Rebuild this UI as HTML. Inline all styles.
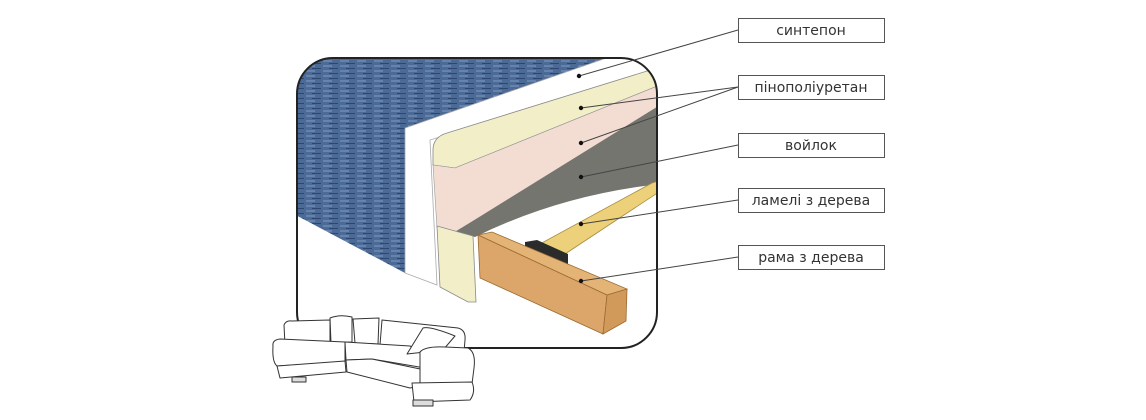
<!DOCTYPE html>
<html><head><meta charset="utf-8"><style>
html,body{margin:0;padding:0;background:#fff;width:1146px;height:420px;overflow:hidden}
svg{display:block}
text{font-family:"DejaVu Sans","Liberation Sans",sans-serif;font-size:14px;fill:#333}
</style></head><body>
<svg width="1146" height="420" viewBox="0 0 1146 420">
<defs>
<pattern id="fab" width="17" height="5" patternUnits="userSpaceOnUse">
<rect width="17" height="5" fill="#4b6a96"/>
<line x1="0" y1="1" x2="9" y2="1" stroke="#7f9cc2" stroke-width="1"/>
<line x1="6" y1="3.5" x2="15" y2="3.5" stroke="#2c4670" stroke-width="1"/>
</pattern>
<clipPath id="fr"><rect x="297" y="58" width="360" height="290" rx="36"/></clipPath>
</defs>
<g clip-path="url(#fr)">
<polygon points="290,55 615,55 405,128 405,273 290,212" fill="url(#fab)"/>
<polygon points="405,128 615,55 660,55 660,70 430,140 437,285 405,273" fill="#fff" stroke="#aaa" stroke-width="0.8"/>
<path d="M433,150 Q433,137 447,133 L660,67 L660,85 L455,168 L433,165 Z" fill="#f2efc8" stroke="#888" stroke-width="0.8"/>
<polygon points="433,165 455,168 660,85 660,110 455,232 437,228" fill="#f3ddd3" stroke="#999" stroke-width="0.6"/>
<path d="M455,232 L660,105 L660,184 Q560,195 475,237 Z" fill="#75756f"/>
<polygon points="538,245 565,254 662,190 662,180 652,183" fill="#ecd07a" stroke="#a88a40" stroke-width="0.8"/>
<polygon points="525,242 537,240 568,254 568,266 525,251" fill="#2b2b2b"/>
<polygon points="437,226 473,236 476,302 468,302 440,287" fill="#f2efc8" stroke="#888" stroke-width="0.8"/>
<polygon points="478,235 492,232 627,289 607,295" fill="#e4b477" stroke="#9a6a30" stroke-width="0.8"/>
<polygon points="478,235 607,295 603,334 480,278" fill="#dca56a" stroke="#9a6a30" stroke-width="0.8"/>
<polygon points="607,295 627,289 626,321 603,334" fill="#d29a5a" stroke="#9a6a30" stroke-width="0.8"/>
</g>
<rect x="297" y="58" width="360" height="290" rx="36" fill="none" stroke="#222" stroke-width="2"/>
<!-- sofa -->
<g fill="#fff" stroke="#333" stroke-width="1" stroke-linejoin="round">
<!-- back -->
<path d="M285,345 L284,325 Q286,320 292,321 L330,320 L330,345 Z"/>
<path d="M380,345 L382,320 L458,328 Q466,330 465,340 L464,352 L420,352 Z"/>
<path d="M330,318 Q340,314 352,317 L352,342 L331,343 Z"/>
<path d="M353,319 L379,318 L378,344 L355,343 Z"/>
<!-- chaise -->
<path d="M273,346 Q272,340 280,339 L345,342 L345,362 L277,366 Q272,362 273,346 Z"/>
<path d="M277,366 L345,361 L346,372 L280,378 Z"/>
<rect x="292" y="377" width="14" height="5" fill="#ddd"/>
<!-- main seat -->
<path d="M345,342 L410,346 L422,352 L425,368 L372,359 L346,360 Z"/>
<path d="M346,360 L372,359 L425,370 L420,386 L410,388 L347,372 Z"/>
<!-- pillow -->
<path d="M407,354 L423,328 Q430,326 455,336 L443,350 Z"/>
<!-- right arm -->
<path d="M420,352 Q425,346 445,347 L468,348 Q476,352 474,368 L472,384 L420,390 Z"/>
<path d="M412,383 L472,382 Q476,392 470,400 L414,402 Z"/>
<rect x="413" y="400" width="20" height="6" fill="#ddd"/>
</g>
<g stroke="#444" stroke-width="1" fill="none">
<line x1="738" y1="30" x2="579" y2="76"/>
<line x1="738" y1="87" x2="581" y2="108"/>
<line x1="738" y1="87" x2="581" y2="143"/>
<line x1="738" y1="145" x2="581" y2="177"/>
<line x1="738" y1="200" x2="581" y2="224"/>
<line x1="738" y1="257" x2="581" y2="281"/>
</g>
<g fill="#111">
<circle cx="579" cy="76" r="2.2"/><circle cx="581" cy="108" r="2.2"/><circle cx="581" cy="143" r="2.2"/>
<circle cx="581" cy="177" r="2.2"/><circle cx="581" cy="224" r="2.2"/><circle cx="581" cy="281" r="2.2"/>
</g>
<g fill="#fff" stroke="#555" stroke-width="1">
<rect x="738.5" y="18.5" width="146" height="24"/>
<rect x="738.5" y="75.5" width="146" height="24"/>
<rect x="738.5" y="133.5" width="146" height="24"/>
<rect x="738.5" y="188.5" width="146" height="24"/>
<rect x="738.5" y="245.5" width="146" height="24"/>
</g>
<g text-anchor="middle">
<text x="811" y="35">синтепон</text>
<text x="811" y="92">пінополіуретан</text>
<text x="811" y="150">войлок</text>
<text x="811" y="205">ламелі з дерева</text>
<text x="811" y="262">рама з дерева</text>
</g>
</svg>
</body></html>
